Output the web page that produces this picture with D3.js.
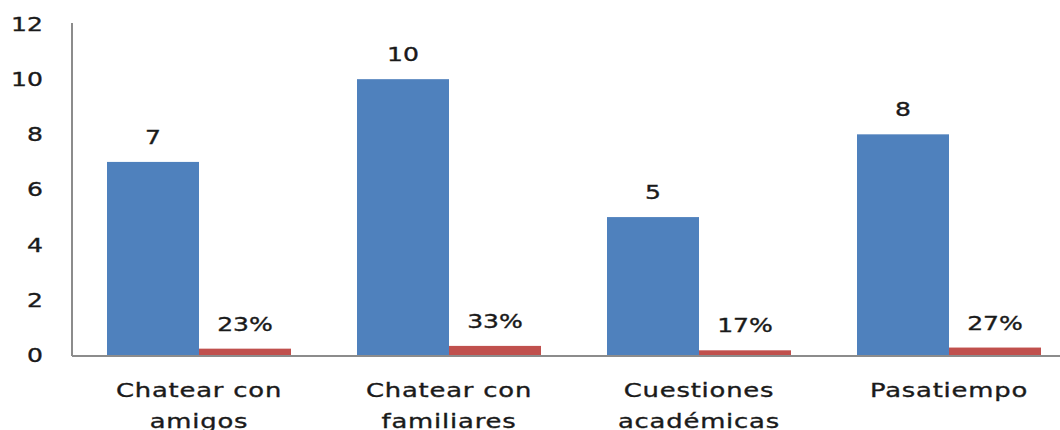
<!DOCTYPE html>
<html>
<head>
<meta charset="utf-8">
<script src="https://cdn.jsdelivr.net/npm/d3@7"></script>
<style>
  body { margin: 0; background: #fff; }
  text { font-family: "DejaVu Sans", Verdana, sans-serif; fill: #1a1a1a; stroke: #1a1a1a; stroke-width: 0.35px; }
</style>
</head>
<body>
<div id="chart"></div>
<script>
let categories = ["Chatear con|amigos", "Chatear con|familiares", "Cuestiones|académicas", "Pasatiempo"];
let counts = [7, 10, 5, 8];
let shares = [0.23, 0.33, 0.17, 0.27];
let shareLabels = ["23%", "33%", "17%", "27%"];
let yTicks = [0, 2, 4, 6, 8, 10, 12];

let width = 1060, height = 430;
let stretch = 1.32; // text in the original is drawn wide

let svg = d3.select("#chart").append("svg")
  .attr("width", width)
  .attr("height", height);

let x = d3.scaleBand()
  .domain(categories)
  .range([74, 1074])
  .padding(0);

let sub = d3.scaleBand()
  .domain(["count", "share"])
  .range([33, 217])
  .padding(0);

let y = d3.scaleLinear()
  .domain([0, 12])
  .range([355, 24]);

// wide text helper
function wideText(sel, px, py, anchor, k) {
  return sel.attr("x", 0).attr("y", 0)
    .attr("text-anchor", anchor)
    .attr("transform", `translate(${px},${py}) scale(${k || stretch},1)`);
}

// y axis labels
svg.append("g").selectAll("text")
  .data(yTicks)
  .enter()
  .append("text")
  .style("font-size", "19px")
  .attr("dy", "0.36em")
  .each(function(d) { wideText(d3.select(this), 43, y(d), "end"); })
  .text(d => d);

// bars
let groups = svg.append("g").selectAll("g")
  .data(categories.map((c, i) => ({ cat: c, count: counts[i], share: shares[i], label: shareLabels[i] })))
  .enter()
  .append("g")
  .attr("transform", d => `translate(${x(d.cat)},0)`);

groups.append("rect")
  .attr("x", sub("count"))
  .attr("y", d => y(d.count))
  .attr("width", sub.bandwidth())
  .attr("height", d => y(0) - y(d.count))
  .attr("fill", "#4F81BD");

groups.append("rect")
  .attr("x", sub("share"))
  .attr("y", d => y(d.share))
  .attr("width", sub.bandwidth())
  .attr("height", d => y(0) - y(d.share))
  .attr("fill", "#C0504D");

groups.append("text")
  .style("font-size", "19px")
  .each(function(d) { wideText(d3.select(this), sub("count") + sub.bandwidth() / 2, y(d.count) - 18, "middle"); })
  .text(d => d.count);

groups.append("text")
  .style("font-size", "19px")
  .each(function(d) { wideText(d3.select(this), sub("share") + sub.bandwidth() / 2, y(d.share) - 18, "middle"); })
  .text(d => d.label);

// axis lines
svg.append("line")
  .attr("x1", 72).attr("x2", 72)
  .attr("y1", y(12) - 1).attr("y2", y(0) + 1)
  .style("stroke", "#8c8c8c")
  .style("stroke-width", 2);

svg.append("line")
  .attr("x1", 72).attr("x2", 1074)
  .attr("y1", y(0) + 1).attr("y2", y(0) + 1)
  .style("stroke", "#8c8c8c")
  .style("stroke-width", 2);

// category labels
groups.each(function(d) {
  let lines = d.cat.split("|");
  let g = d3.select(this);
  lines.forEach((ln, k) => {
    g.append("text")
      .style("font-size", "19px")
      .style("letter-spacing", "0.6px")
      .each(function() { wideText(d3.select(this), x.bandwidth() / 2, 397 + k * 31, "middle", 1.36); })
      .text(ln);
  });
});
</script>
</body>
</html>
